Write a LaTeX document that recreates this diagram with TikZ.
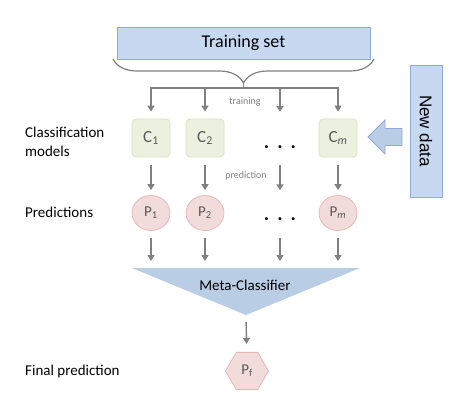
\documentclass[tikz,border=0pt]{standalone}
\usepackage{fontspec}
\setmainfont{Carlito}
\newfontfamily\arialfont{Liberation Sans}
\usetikzlibrary{arrows.meta,shapes.geometric,decorations.pathreplacing}

\definecolor{datablue}{HTML}{C6D9F1}
\definecolor{datablueline}{HTML}{8EAADB}
\definecolor{metablue}{HTML}{B9CDE5}
\definecolor{modelgreen}{HTML}{EBF1DE}
\definecolor{modelgreenline}{HTML}{D7E4BD}
\definecolor{predpink}{HTML}{F2DCDB}
\definecolor{predpinkline}{HTML}{E6B9B8}
\definecolor{arrowgrey}{HTML}{808080}
\definecolor{textgrey}{HTML}{595959}

\begin{document}
\begin{tikzpicture}[x=1pt, y=-1pt]
        \tikzstyle{databox}=[rectangle,draw=datablueline,fill=datablue,line width=0.8pt,inner sep=0pt]
        \tikzstyle{model}=[rectangle,rounded corners=4pt,draw=modelgreenline,fill=modelgreen,line width=0.8pt,minimum size=38pt,inner sep=0pt,text=textgrey,font=\fontsize{17}{17}\selectfont]
        \tikzstyle{pred}=[ellipse,draw=predpinkline,fill=predpink,line width=0.8pt,minimum width=38pt,minimum height=35pt,inner sep=0pt,text=textgrey,font=\fontsize{15}{15}\selectfont]
        \tikzstyle{dots}=[inner sep=0pt,minimum width=38pt,text depth=0pt,font=\fontsize{20}{20}\bfseries]
        \tikzstyle{flow}=[draw=arrowgrey,line width=1.4pt,-{Triangle[length=6pt,width=7pt]}]
        \tikzstyle{step label}=[text=arrowgrey,font=\fontsize{10}{10}\selectfont]
        \tikzstyle{rowlabel}=[anchor=west,align=left,inner sep=0pt,font=\fontsize{15}{18.5}\selectfont]

        \useasboundingbox (0,0) rectangle (472,416);

        \node[databox,minimum width=253pt,minimum height=32pt,font=\fontsize{18}{18}\selectfont] (train) at (243.5,43) {Training set};
        \draw[draw=arrowgrey,line width=1.2pt,decorate,decoration={brace,amplitude=24pt}] (374,59) -- (113,59);
        \coordinate (brace_tip) at (243.5,83);
        \coordinate (split) at (243.5,88);

        \node[model] (C_1) at (151,138) {C\textsubscript{1}};
        \node[model] (C_2) at (205,138) {C\textsubscript{2}};
        \node[dots,minimum height=38pt,text height=20pt] (D_1) at (280,138) {.\hspace{8pt}.\hspace{8pt}.};
        \node[model] (C_m) at (338,138) {C\textsubscript{\itshape m}};

        \node[pred] (P_1) at (151,213) {P\textsubscript{1}};
        \node[pred] (P_2) at (205,213) {P\textsubscript{2}};
        \node[dots,minimum height=35pt,text height=14pt] (D_2) at (280,213) {.\hspace{8pt}.\hspace{8pt}.};
        \node[pred] (P_m) at (338,213) {P\textsubscript{\itshape m}};

        \coordinate (M_l) at (132,268);
        \coordinate (M_r) at (360,268);
        \coordinate (M_b) at (246,315);
        \fill[metablue] (M_l) -- (M_r) -- (M_b) -- cycle;
        \node[font=\fontsize{15}{15}\selectfont] (meta) at (245,285) {Meta-Classifier};

        \node[regular polygon,regular polygon sides=6,minimum size=43pt,inner sep=0pt,draw=predpinkline,fill=predpink,line width=0.8pt,text=textgrey,font=\fontsize{15}{15}\selectfont] (P_f) at (247,371) {P\textsubscript{f}};

        \node[databox,rotate=-90,minimum width=132pt,minimum height=32pt,font=\arialfont\fontsize{17}{17}\selectfont] (new) at (426,131) {New data};
        \filldraw[fill=metablue,draw=datablueline,line width=0.8pt] (402,128.5) -- (385,128.5) -- (385,120) -- (368,137) -- (385,154) -- (385,145.5) -- (402,145.5) -- cycle;

        \node[rowlabel] (lab_models) at (25,142) {Classification\\models};
        \node[rowlabel] (lab_preds) at (25,212) {Predictions};
        \node[rowlabel] (lab_final) at (25,371) {Final prediction};

        \draw[draw=arrowgrey,line width=1.4pt] (brace_tip) -- (split);
        \draw[flow,shorten >=7pt] (split) -| (C_1);
        \draw[flow,shorten >=7pt] (split) -| (C_2);
        \draw[flow,shorten >=7pt] (split) -| (D_1);
        \draw[flow,shorten >=7pt] (split) -| (C_m);
        \node[step label] at (245,102) {training};

        \draw[flow,shorten <=8pt,shorten >=5pt] (C_1) -- (P_1);
        \draw[flow,shorten <=8pt,shorten >=5pt] (C_2) -- (P_2);
        \draw[flow,shorten <=8pt,shorten >=5pt] (D_1) -- (D_2);
        \draw[flow,shorten <=8pt,shorten >=5pt] (C_m) -- (P_m);
        \node[step label] at (246,176) {prediction};

        \draw[flow,shorten <=7pt,shorten >=7pt] (P_1) -- (P_1 |- M_l);
        \draw[flow,shorten <=7pt,shorten >=7pt] (P_2) -- (P_2 |- M_l);
        \draw[flow,shorten <=7pt,shorten >=7pt] (D_2) -- (D_2 |- M_l);
        \draw[flow,shorten <=7pt,shorten >=7pt] (P_m) -- (P_m |- M_l);

        \draw[flow,shorten <=7pt,shorten >=8pt] (M_b) -- (P_f);
\end{tikzpicture}
\end{document}
